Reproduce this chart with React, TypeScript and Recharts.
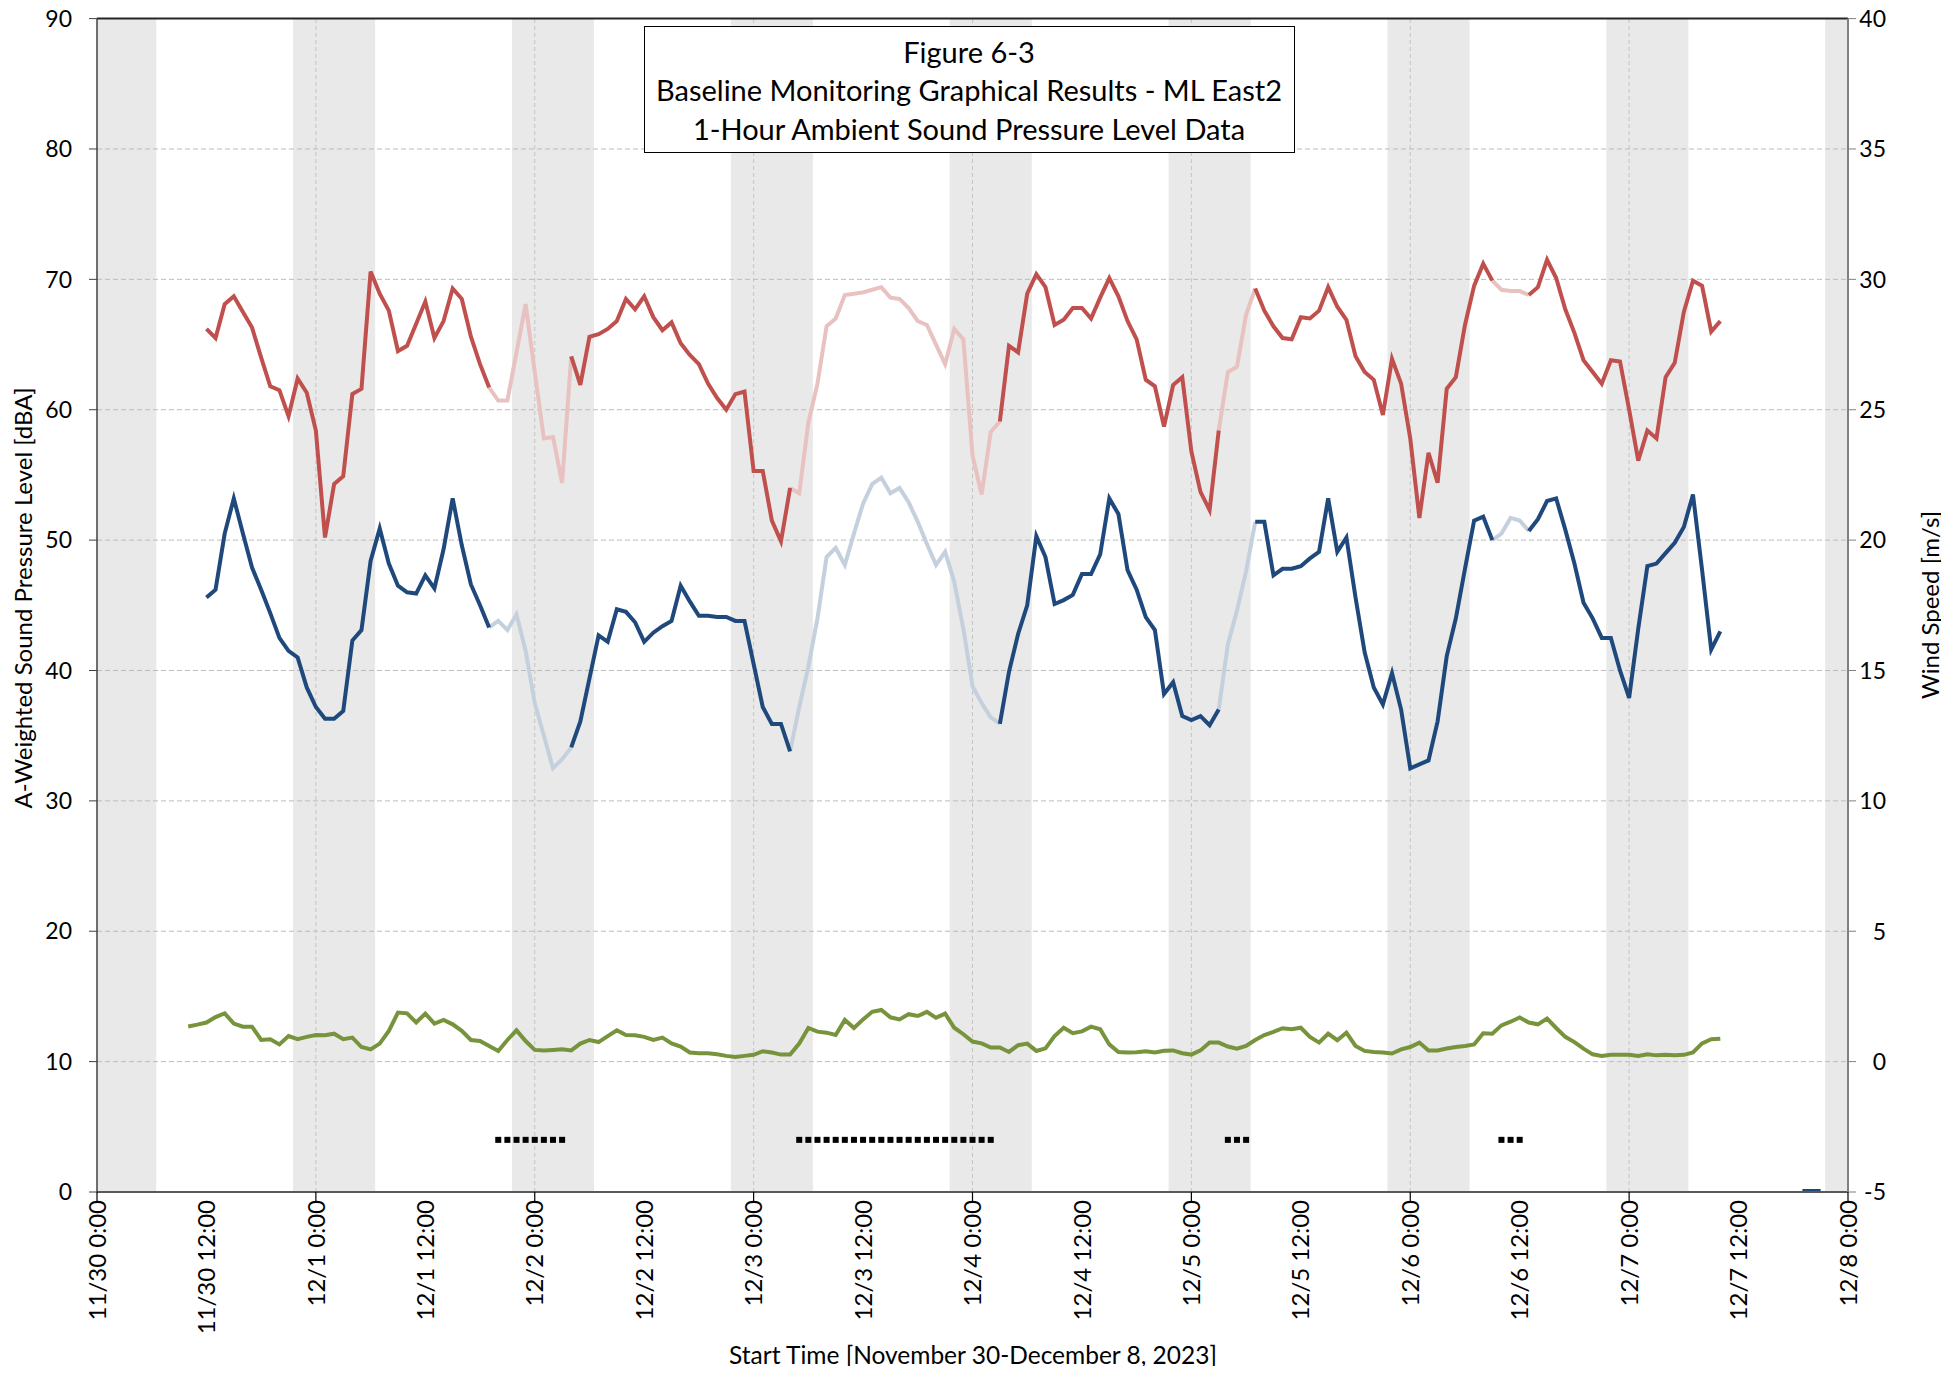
import React from "react";
import {
  LineChart,
  Line,
  XAxis,
  YAxis,
  ReferenceArea,
  ReferenceLine,
} from "recharts";

// ---------- data ----------
const tickHours = [0, 12, 24, 36, 48, 60, 72, 84, 96, 108, 120, 132, 144, 156, 168, 180, 192];
const tickLabels = [
  "11/30 0:00", "11/30 12:00", "12/1 0:00", "12/1 12:00", "12/2 0:00", "12/2 12:00",
  "12/3 0:00", "12/3 12:00", "12/4 0:00", "12/4 12:00", "12/5 0:00", "12/5 12:00",
  "12/6 0:00", "12/6 12:00", "12/7 0:00", "12/7 12:00", "12/8 0:00",
];
const leftTicks = [0, 10, 20, 30, 40, 50, 60, 70, 80, 90];
const rightTicks = [-5, 0, 5, 10, 15, 20, 25, 30, 35, 40];

// hourly Leq (dBA), starting 11/30 12:00 (hour 12)
const laeqStart = 12;
const laeq = [
  66.2, 65.5, 68.1, 68.7, 67.5, 66.3, 64.0, 61.8, 61.5, 59.5, 62.4, 61.3,
  58.4, 50.2, 54.3, 54.9, 61.2, 61.6, 70.6, 68.9, 67.6, 64.5, 64.9, 66.6,
  68.3, 65.5, 66.8, 69.3, 68.5, 65.6, 63.5, 61.7, 60.7, 60.7, 64.4, 68.1,
  62.9, 57.8, 57.9, 54.4, 64.1, 61.9, 65.6, 65.8, 66.2, 66.8, 68.5, 67.7,
  68.7, 67.1, 66.1, 66.7, 65.1, 64.2, 63.5, 62.0, 60.9, 60.0, 61.2, 61.4,
  55.3, 55.3, 51.5, 49.9, 54.0, 53.6, 59.0, 62.0, 66.4, 67.0, 68.8, 68.9,
  69.0, 69.2, 69.4, 68.6, 68.5, 67.8, 66.8, 66.5, 65.0, 63.5, 66.2, 65.4,
  56.5, 53.5, 58.3, 59.1, 64.9, 64.4, 68.9, 70.4, 69.4, 66.5, 66.9, 67.8,
  67.8, 67.0, 68.6, 70.1, 68.7, 66.8, 65.4, 62.3, 61.8, 58.7, 61.9, 62.5,
  56.8, 53.7, 52.3, 58.4, 62.9, 63.3, 67.3, 69.3, 67.6, 66.4, 65.5, 65.4,
  67.1, 67.0, 67.6, 69.4, 67.9, 66.9, 64.1, 62.9, 62.3, 59.6, 63.9, 62.0,
  57.8, 51.7, 56.7, 54.4, 61.6, 62.5, 66.5, 69.5, 71.2, 69.9, 69.2, 69.1,
  69.1, 68.8, 69.4, 71.5, 70.1, 67.7, 65.9, 63.8, 62.9, 62.0, 63.8, 63.7,
  60.0, 56.1, 58.4, 57.8, 62.5, 63.6, 67.5, 69.9, 69.5, 66.0, 66.8,
];

// hourly L90 (dBA), starting hour 12
const la90Start = 12;
const la90 = [
  45.6, 46.2, 50.5, 53.2, 50.5, 47.9, 46.2, 44.4, 42.5, 41.5, 41.0, 38.7,
  37.2, 36.3, 36.3, 36.9, 42.3, 43.1, 48.4, 50.9, 48.2, 46.5, 46.0, 45.9,
  47.3, 46.3, 49.3, 53.2, 49.6, 46.6, 45.0, 43.3, 43.8, 43.1, 44.3, 41.5,
  37.5, 35.0, 32.5, 33.2, 34.1, 36.1, 39.4, 42.7, 42.2, 44.7, 44.5, 43.7,
  42.2, 42.9, 43.4, 43.8, 46.5, 45.3, 44.2, 44.2, 44.1, 44.1, 43.8, 43.8,
  40.5, 37.2, 35.9, 35.9, 33.8, 37.2, 40.3, 44.0, 48.7, 49.4, 48.1, 50.5,
  52.8, 54.3, 54.8, 53.6, 54.0, 52.9, 51.4, 49.7, 48.1, 49.1, 46.8, 43.2,
  38.8, 37.5, 36.4, 35.9, 39.9, 42.8, 45.0, 50.3, 48.7, 45.1, 45.4, 45.8,
  47.4, 47.4, 48.9, 53.2, 52.0, 47.7, 46.2, 44.1, 43.1, 38.2, 39.1, 36.5,
  36.2, 36.5, 35.8, 37.0, 42.0, 44.6, 47.6, 51.4, 51.4, 47.3, 47.8, 47.8,
  48.0, 48.6, 49.1, 53.2, 49.1, 50.2, 45.6, 41.4, 38.7, 37.4, 39.8, 37.0,
  32.5, 32.8, 33.1, 36.1, 41.1, 44.0, 47.8, 51.5, 51.8, 50.0, 50.5, 51.7,
  51.5, 50.7, 51.6, 53.0, 53.2, 50.8, 48.2, 45.2, 44.0, 42.5, 42.5, 40.0,
  37.9, 43.2, 48.0, 48.2, 49.0, 49.8, 51.0, 53.5, 47.7, 41.6, 43.0,
];

// hourly wind speed (m/s), starting hour 10
const windStart = 10;
const wind = [
  1.35, 1.42, 1.50, 1.71, 1.85, 1.46, 1.34, 1.34, 0.83, 0.86, 0.66, 0.98,
  0.86, 0.95, 1.02, 1.01, 1.07, 0.86, 0.92, 0.56, 0.47, 0.69, 1.18, 1.88,
  1.85, 1.50, 1.84, 1.46, 1.60, 1.43, 1.18, 0.83, 0.79, 0.60, 0.41, 0.83,
  1.20, 0.79, 0.45, 0.43, 0.45, 0.47, 0.43, 0.69, 0.83, 0.75, 0.98, 1.20,
  1.02, 1.01, 0.95, 0.83, 0.92, 0.70, 0.58, 0.35, 0.32, 0.32, 0.28, 0.22,
  0.18, 0.22, 0.26, 0.40, 0.35, 0.27, 0.27, 0.69, 1.29, 1.15, 1.11, 1.02,
  1.60, 1.29, 1.62, 1.91, 1.98, 1.70, 1.62, 1.82, 1.75, 1.91, 1.68, 1.84,
  1.30, 1.05, 0.77, 0.70, 0.54, 0.54, 0.37, 0.63, 0.69, 0.41, 0.51, 0.98,
  1.30, 1.09, 1.16, 1.34, 1.24, 0.66, 0.37, 0.35, 0.36, 0.40, 0.35, 0.42,
  0.43, 0.32, 0.27, 0.43, 0.73, 0.73, 0.58, 0.50, 0.60, 0.83, 1.02, 1.14,
  1.28, 1.24, 1.30, 0.95, 0.73, 1.07, 0.82, 1.11, 0.60, 0.41, 0.37, 0.35,
  0.31, 0.47, 0.56, 0.73, 0.43, 0.43, 0.50, 0.56, 0.60, 0.66, 1.09, 1.07,
  1.39, 1.53, 1.69, 1.50, 1.43, 1.65, 1.29, 0.95, 0.75, 0.50, 0.28, 0.22,
  0.26, 0.26, 0.26, 0.22, 0.28, 0.24, 0.26, 0.24, 0.26, 0.35, 0.70, 0.86,
  0.88,
];

// excluded hour ranges (inclusive)
const excludedRanges = [
  [44, 51],
  [77, 98],
  [124, 126],
  [154, 156],
];
const excludedMarkerLevel = 4;

// night-time shading (hours from 11/30 0:00)
const nightBands = [
  [0, 6.5], [21.5, 30.5], [45.5, 54.5], [69.5, 78.5], [93.5, 102.5],
  [117.5, 126.5], [141.5, 150.5], [165.5, 174.5], [189.5, 192],
];
const midnightHours = [24, 48, 72, 96, 120, 144, 168];
const gridLevels = [10, 20, 30, 40, 50, 60, 70, 80];
const zeroMarkHours = [187, 188, 189];

// ---------- table ----------
const inRange = (h: number, pad: number) =>
  excludedRanges.some(([a, b]) => h >= a - pad && h <= b + pad);
const pick = (arr: number[], start: number, h: number) => {
  const i = h - start;
  return i >= 0 && i < arr.length ? arr[i] : null;
};

const rows: any[] = [];
for (let h = 0; h <= 192; h++) {
  const r = pick(laeq, laeqStart, h);
  const b = pick(la90, la90Start, h);
  const excl = inRange(h, 0);
  const near = inRange(h, 1);
  rows.push({
    h,
    redSolid: excl ? null : r,
    redFaded: near ? r : null,
    blueSolid: excl ? null : b,
    blueFaded: near ? b : null,
    wind: pick(wind, windStart, h),
    marker: excl ? excludedMarkerLevel : null,
    zero: zeroMarkHours.includes(h) ? 0 : null,
  });
}

// ---------- layout ----------
const W = 1949;
const H = 1374;
const FONT = "Lato, 'Open Sans', sans-serif";
const RED = "#c0504d";
const RED_FADED = "#e8c2c1";
const BLUE = "#1f497d";
const BLUE_FADED = "#c5d0de";
const GREEN = "#77933c";
const LW = 4;

const XTick = (props: any) => {
  const { x, y, payload } = props;
  const idx = tickHours.indexOf(payload.value);
  const label = idx >= 0 ? tickLabels[idx] : "";
  const major = payload.value % 24 === 0;
  return (
    <g>
      {major && <line x1={x} y1={y} x2={x} y2={y + 9} stroke="#000" strokeWidth={1.2} />}
      <text
        transform={`translate(${x},${y + 8}) rotate(-90)`}
        textAnchor="end"
        dy="0.36em"
        fontSize={24}
        fontFamily={FONT}
        fill="#000"
      >
        {label}
      </text>
    </g>
  );
};

const RightTick = (props: any) => {
  const { x, y, payload } = props;
  return (
    <text x={x} y={y} dy="0.36em" textAnchor="end" fontSize={23} fontFamily={FONT} fill="#000">
      {payload.value}
    </text>
  );
};

const MarkerDot = (props: any) => {
  const { cx, cy, value, index } = props;
  if (value == null || cy == null || cx == null) return <g key={`m${index}`} />;
  return <rect key={`m${index}`} x={cx - 3} y={cy - 3} width={6} height={6} fill="#000" />;
};

export default function App() {
  return (
    <div style={{ position: "relative", width: W, height: H, margin: "-8px -8px -8px -8px" }}>
      <LineChart
        width={W}
        height={H}
        data={rows}
        margin={{ top: 18.6, right: 0, bottom: 0, left: 0 }}
      >
        <XAxis
          dataKey="h"
          type="number"
          domain={[0, 192]}
          ticks={tickHours}
          interval={0}
          height={182}
          tickSize={0}
          tickMargin={0}
          tickLine={false}
          tick={<XTick />}
          axisLine={{ stroke: "#595959", strokeWidth: 2 }}
          allowDataOverflow
        />
        <YAxis
          yAxisId="L"
          domain={[0, 90]}
          ticks={leftTicks}
          interval={0}
          width={97}
          tickSize={8}
          tickMargin={17}
          tick={{ fontSize: 23, fill: "#000", fontFamily: FONT }}
          tickLine={{ stroke: "#404040" }}
          axisLine={{ stroke: "#404040", strokeWidth: 1.5 }}
          allowDataOverflow
        />
        <YAxis
          yAxisId="R"
          orientation="right"
          domain={[-5, 40]}
          ticks={rightTicks}
          interval={0}
          width={101}
          tickSize={8}
          tickMargin={30}
          tick={<RightTick />}
          tickLine={{ stroke: "#808080" }}
          axisLine={{ stroke: "#808080", strokeWidth: 2 }}
          allowDataOverflow
        />

        {nightBands.map(([a, b], i) => (
          <ReferenceArea
            key={`n${i}`}
            yAxisId="L"
            x1={a}
            x2={b}
            y1={0}
            y2={90}
            fill="#e9e9e9"
            fillOpacity={1}
            stroke="none"
            ifOverflow="visible"
          />
        ))}
        {gridLevels.map((v) => (
          <ReferenceLine
            key={`g${v}`}
            yAxisId="L"
            y={v}
            stroke="#bcbcbc"
            strokeDasharray="5 3"
            strokeWidth={1}
          />
        ))}
        {midnightHours.map((v) => (
          <ReferenceLine
            key={`v${v}`}
            yAxisId="L"
            x={v}
            stroke="#c4c4c4"
            strokeDasharray="4 3"
            strokeWidth={1}
          />
        ))}
        <ReferenceLine yAxisId="L" y={90} stroke="#262626" strokeWidth={2} ifOverflow="visible" />

        <Line yAxisId="L" dataKey="redFaded" stroke={RED_FADED} strokeWidth={LW} dot={false} isAnimationActive={false} connectNulls={false} />
        <Line yAxisId="L" dataKey="blueFaded" stroke={BLUE_FADED} strokeWidth={LW} dot={false} isAnimationActive={false} connectNulls={false} />
        <Line yAxisId="L" dataKey="redSolid" stroke={RED} strokeWidth={LW} dot={false} isAnimationActive={false} connectNulls={false} />
        <Line yAxisId="L" dataKey="blueSolid" stroke={BLUE} strokeWidth={LW} dot={false} isAnimationActive={false} connectNulls={false} />
        <Line yAxisId="R" dataKey="wind" stroke={GREEN} strokeWidth={LW} dot={false} isAnimationActive={false} connectNulls={false} />
        <Line yAxisId="L" dataKey="marker" stroke="none" dot={<MarkerDot />} activeDot={false} isAnimationActive={false} />
        <Line yAxisId="L" dataKey="zero" stroke={BLUE} strokeWidth={6} dot={false} isAnimationActive={false} />
      </LineChart>

      <svg
        width={W}
        height={H}
        style={{ position: "absolute", left: 0, top: 0, pointerEvents: "none" }}
      >
        <rect x={644.5} y={26.5} width={650} height={126} fill="#fff" stroke="#000" strokeWidth={1} />
        <g fontFamily={FONT} fontSize={29} fill="#000" textAnchor="middle">
          <text x={969} y={51} dominantBaseline="central">Figure 6-3</text>
          <text x={969} y={89.5} dominantBaseline="central">Baseline Monitoring Graphical Results - ML East2</text>
          <text x={969} y={128} dominantBaseline="central">1-Hour Ambient Sound Pressure Level Data</text>
        </g>
        <text
          transform="translate(22,598) rotate(-90)"
          textAnchor="middle"
          dominantBaseline="central"
          fontFamily={FONT}
          fontSize={24}
          fill="#000"
        >
          A-Weighted Sound Pressure Level [dBA]
        </text>
        <text
          transform="translate(1929,605) rotate(-90)"
          textAnchor="middle"
          dominantBaseline="central"
          fontFamily={FONT}
          fontSize={24}
          fill="#000"
        >
          Wind Speed [m/s]
        </text>
        <text
          x={973}
          y={1354}
          textAnchor="middle"
          dominantBaseline="central"
          fontFamily={FONT}
          fontSize={24.5}
          fill="#000"
        >
          Start Time [November 30-December 8, 2023]
        </text>
      </svg>
    </div>
  );
}
